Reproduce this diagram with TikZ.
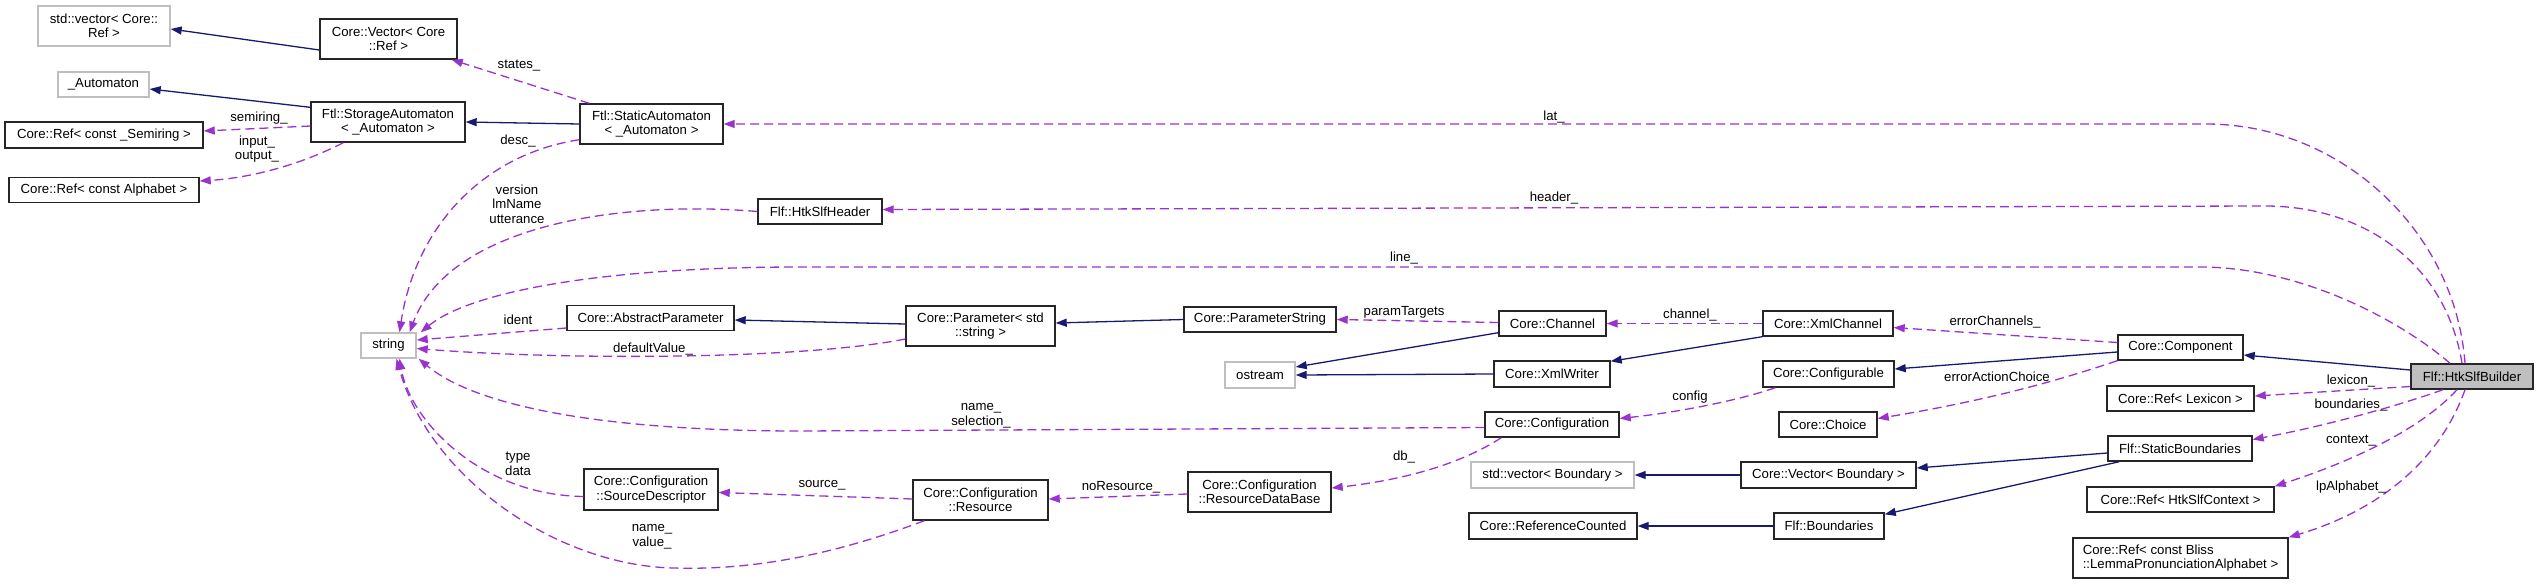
\documentclass[tikz,border=0pt]{standalone}
\usepackage{fontspec}
\usetikzlibrary{arrows.meta,calc}
\newfontfamily\dxfam{Liberation Sans}
\newcommand\dxfont{\dxfam\fontsize{13.2}{14.5}\selectfont}
\definecolor{navyc}{HTML}{191970}
\definecolor{purp}{HTML}{9A32CD}
\definecolor{extgray}{HTML}{BFBFBF}
\tikzset{
  cls/.style={draw=black!85, line width=1.4pt, fill=white, inner sep=0pt, font=\dxfont, align=center},
  ext/.style={cls, draw=extgray},
  inh/.style={draw=navyc, line width=1.3pt, -{Triangle[length=11pt,width=8pt]}},
  use/.style={draw=purp, line width=1.3pt, dash pattern=on 9pt off 5pt, -{Triangle[length=11pt,width=8pt]}},
  lbl/.style={font=\dxfont, inner sep=0pt, align=center}
}
\begin{document}
\begin{tikzpicture}[x=1pt,y=-1pt]
\useasboundingbox (0,0) rectangle (2539,584);
% classes
\node[ext, minimum width=132, minimum height=40] (vecref) at (104,26) {std::vector< Core::\\Ref >};
\node[cls, minimum width=137, minimum height=40] (cvecref) at (388.5,39) {Core::Vector< Core\\::Ref >};
\node[ext, minimum width=91, minimum height=25] (autom) at (103.5,84.5) {\_Automaton};
\node[cls, minimum width=154, minimum height=40] (storage) at (388,122) {Ftl::StorageAutomaton\\< \_Automaton >};
\node[cls, minimum width=198, minimum height=26] (semiring) at (104,135) {Core::Ref< const \_Semiring >};
\node[cls, minimum width=190, minimum height=25] (alphabet) at (104,190) {Core::Ref< const Alphabet >};
\node[cls, minimum width=143, minimum height=40] (static) at (651.5,124) {Ftl::StaticAutomaton\\< \_Automaton >};
\node[cls, minimum width=124, minimum height=25] (header) at (820,211.5) {Flf::HtkSlfHeader};
\node[ext, minimum width=55, minimum height=25] (string) at (388.5,345.5) {string};
\node[cls, minimum width=167, minimum height=25] (absparam) at (650.5,318) {Core::AbstractParameter};
\node[cls, minimum width=149, minimum height=40] (param) at (980.5,326) {Core::Parameter< std\\::string >};
\node[cls, minimum width=152, minimum height=25] (paramstr) at (1260,319.5) {Core::ParameterString};
\node[cls, minimum width=107, minimum height=25] (channel) at (1552.5,323.5) {Core::Channel};
\node[ext, minimum width=70, minimum height=26] (ostream) at (1260,375) {ostream};
\node[cls, minimum width=116, minimum height=26] (xmlwriter) at (1552,374) {Core::XmlWriter};
\node[cls, minimum width=134, minimum height=25] (config) at (1552,424.5) {Core::Configuration};
\node[cls, minimum width=143, minimum height=40] (resdb) at (1259.5,492) {Core::Configuration\\::ResourceDataBase};
\node[cls, minimum width=135, minimum height=40] (resource) at (980.5,500) {Core::Configuration\\::Resource};
\node[cls, minimum width=134, minimum height=41] (srcdesc) at (651,489.5) {Core::Configuration\\::SourceDescriptor};
\node[ext, minimum width=163, minimum height=26] (stdvecb) at (1552.5,475) {std::vector< Boundary >};
\node[cls, minimum width=168, minimum height=26] (refcounted) at (1553,526) {Core::ReferenceCounted};
\node[cls, minimum width=130, minimum height=25] (xmlchannel) at (1828,323.5) {Core::XmlChannel};
\node[cls, minimum width=131, minimum height=26] (configurable) at (1828.5,374) {Core::Configurable};
\node[cls, minimum width=98, minimum height=25] (choice) at (1828,424.5) {Core::Choice};
\node[cls, minimum width=175, minimum height=26] (cvecb) at (1828.5,475) {Core::Vector< Boundary >};
\node[cls, minimum width=110, minimum height=26] (boundaries) at (1829,526) {Flf::Boundaries};
\node[cls, minimum width=125, minimum height=25] (component) at (2180.5,347.5) {Core::Component};
\node[cls, minimum width=147, minimum height=25] (reflex) at (2180.5,398.5) {Core::Ref< Lexicon >};
\node[cls, minimum width=144, minimum height=25] (staticb) at (2180,448.5) {Flf::StaticBoundaries};
\node[cls, minimum width=187, minimum height=25] (refctx) at (2180.5,499.5) {Core::Ref< HtkSlfContext >};
\node[cls, minimum width=215, minimum height=40, align=left] (reflp) at (2180.5,558) {Core::Ref< const Bliss\\::LemmaPronunciationAlphabet >};
\node[cls, fill=extgray, minimum width=122, minimum height=25] (builder) at (2472,376.5) {Flf::HtkSlfBuilder};
% inheritance
\draw[inh] ($(cvecref.west)+(0,11)$) -- ($(vecref.east)+(0,3)$);
\draw[inh] ($(storage.north west)+(0,6)$) -- ($(autom.east)+(0,4.5)$);
\draw[inh] (static.west) -- (storage.east);
\draw[inh] ($(param.west)+(0,-2)$) -- ($(absparam.east)+(0,2)$);
\draw[inh] (paramstr.west) -- ($(param.east)+(0,-3)$);
\draw[inh] ($(channel.south west)+(0,-4)$) -- ($(ostream.east)+(0,-8)$);
\draw[inh] (xmlwriter.west) -- (ostream.east);
\draw[inh] (xmlchannel.south west) -- ($(xmlwriter.north east)+(0,1)$);
\draw[inh] ($(component.west)+(0,4.5)$) -- ($(configurable.east)+(0,-5)$);
\draw[inh] ($(builder.west)+(0,-6.5)$) -- ($(component.east)+(0,7.5)$);
\draw[inh] ($(staticb.west)+(0,4.5)$) -- ($(cvecb.east)+(0,-7)$);
\draw[inh] ($(staticb.south west)+(12,0)$) -- ($(boundaries.north east)+(0,2)$);
\draw[inh] (cvecb.west) -- (stdvecb.east);
\draw[inh] (boundaries.west) -- (refcounted.east);
% usage
\draw[use] ($(static.north west)+(10,0)$) -- ($(cvecref.south east)+(-6,0)$);
\draw[use] ($(storage.west)+(0,4)$) -- ($(semiring.east)+(0,-4)$);
\draw[use] ($(storage.south west)+(33,0)$) .. controls (300,165) and (250,178) .. ($(alphabet.east)+(0,-9)$);
\draw[use] ($(builder.north)+(-7,0)$) .. controls (2455,230) and (2340,124) .. (2206,124) -- (static.east);
\draw[use] ($(builder.north)+(-10,0)$) .. controls (2445,260) and (2360,206) .. (2265,206) -- ($(header.east)+(0,-2)$);
\draw[use] ($(builder.north)+(-22,0)$) .. controls (2400,320) and (2300,267) .. (2200,267) -- (800,267) .. controls (600,267) and (470,292) .. ($(string.north east)+(4,0)$);
\draw[use] ($(static.south west)+(0,-5)$) .. controls (480,155) and (415,230) .. ($(string.north)+(11,0)$);
\draw[use] (header.west) .. controls (620,200) and (450,225) .. ($(string.north)+(21,0)$);
\draw[use] ($(absparam.west)+(0,10)$) -- ($(string.east)+(0,-5.5)$);
\draw[use] ($(param.west)+(0,13)$) .. controls (800,360) and (560,360) .. ($(string.east)+(0,3)$);
\draw[use] ($(config.west)+(0,3)$) -- (800,431) .. controls (620,431) and (480,410) .. ($(string.south east)+(2,0)$);
\draw[use] ($(srcdesc.west)+(0,7)$) .. controls (480,495) and (410,420) .. ($(string.south)+(11,0)$);
\draw[use] ($(resource.south west)+(12,0)$) .. controls (820,560) and (740,570) .. (674,568) .. controls (560,566) and (430,480) .. ($(string.south)+(8,0)$);
\draw[use] ($(resource.west)+(0,-1)$) -- ($(srcdesc.east)+(0,3)$);
\draw[use] ($(resdb.west)+(0,2)$) -- ($(resource.east)+(0,-1)$);
\draw[use] ($(config.south west)+(17,0)$) .. controls (1470,458) and (1420,478) .. ($(resdb.east)+(0,-4)$);
\draw[use] ($(channel.west)+(0,-1)$) -- (paramstr.east);
\draw[use] (xmlchannel.west) -- (channel.east);
\draw[use] ($(configurable.south west)+(13,0)$) .. controls (1740,400) and (1680,412) .. ($(config.east)+(0,-6)$);
\draw[use] ($(component.west)+(0,-5)$) -- ($(xmlchannel.east)+(0,4)$);
\draw[use] (component.south west) .. controls (2060,380) and (1990,400) .. ($(choice.east)+(0,-6)$);
\draw[use] ($(builder.west)+(0,10)$) -- ($(reflex.east)+(0,-2.5)$);
\draw[use] ($(builder.south)+(-29,0)$) .. controls (2400,405) and (2330,425) .. ($(staticb.east)+(0,-9)$);
\draw[use] ($(builder.south)+(-15,0)$) .. controls (2420,430) and (2350,462) .. (refctx.north east);
\draw[use] ($(builder.south)+(-7,0)$) .. controls (2440,460) and (2380,510) .. (reflp.north east);
% labels
\node[lbl] (lstates) at (519,66) {states\_};
\node[lbl] (lsemiring) at (259,118) {semiring\_};
\node[lbl] (linout) at (257,149) {input\_\\output\_};
\node[lbl] (ldesc) at (518,141) {desc\_};
\node[lbl] (lvlu) at (517,204) {version\\lmName\\utterance};
\node[lbl] (llat) at (1554,117) {lat\_};
\node[lbl] (lheader) at (1554,198) {header\_};
\node[lbl] (lline) at (1404,258) {line\_};
\node[lbl] (lident) at (518,320) {ident};
\node[lbl] (ldefault) at (653,349) {defaultValue\_};
\node[lbl] (lnamesel) at (981,416) {name\_\\selection\_};
\node[lbl] (ltypedata) at (518,464) {type\\data};
\node[lbl] (lnamevalue) at (652,537) {name\_\\value\_};
\node[lbl] (lsource) at (822,485) {source\_};
\node[lbl] (lnores) at (1121,487) {noResource\_};
\node[lbl] (ldb) at (1404,457) {db\_};
\node[lbl] (lparams) at (1404,312) {paramTargets};
\node[lbl] (lchannel) at (1690,315) {channel\_};
\node[lbl] (lconfig) at (1690,397) {config};
\node[lbl] (lerrch) at (1995,322) {errorChannels\_};
\node[lbl] (lerract) at (1997,377) {errorActionChoice};
\node[lbl] (llex) at (2351,381) {lexicon\_};
\node[lbl] (lbound) at (2351,405) {boundaries\_};
\node[lbl] (lctx) at (2351,441) {context\_};
\node[lbl] (llp) at (2351,487) {lpAlphabet\_};
\end{tikzpicture}
\end{document}
